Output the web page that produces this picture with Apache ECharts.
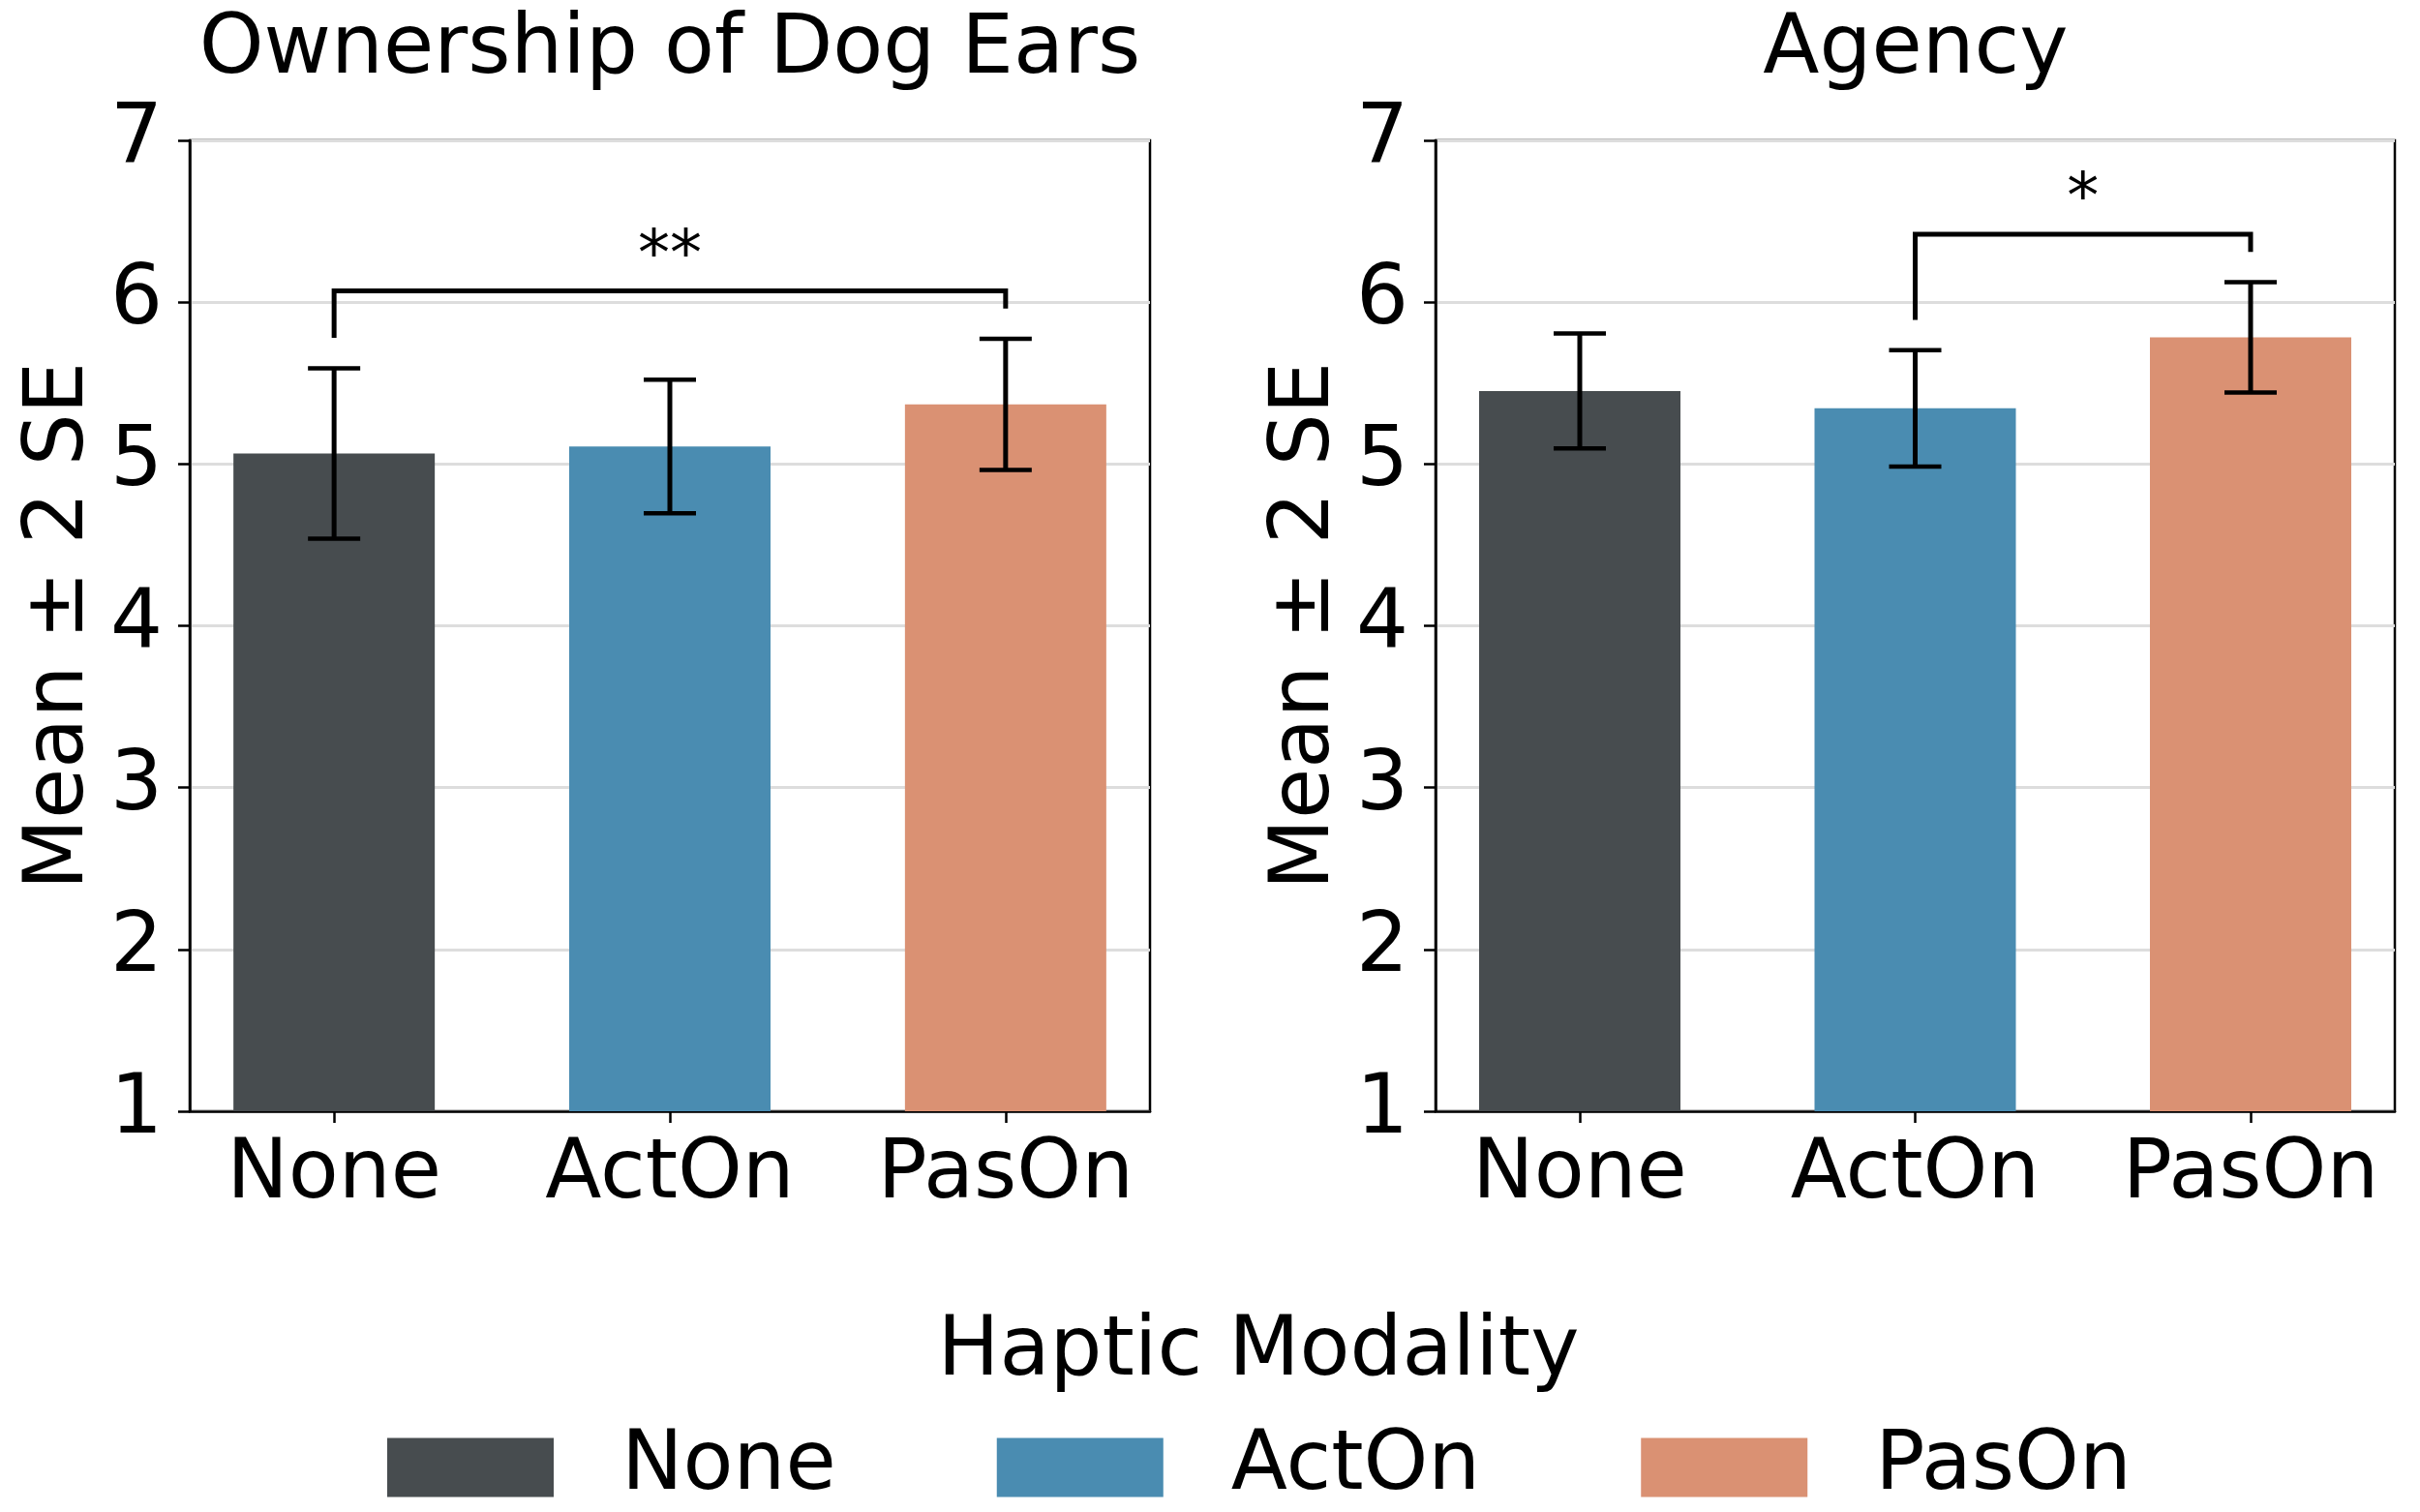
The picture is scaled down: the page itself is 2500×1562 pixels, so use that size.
<!DOCTYPE html>
<html>
<head>
<meta charset="utf-8">
<script src="https://cdn.jsdelivr.net/npm/echarts@6/dist/echarts.min.js"></script>
<style>html,body{margin:0;padding:0;background:#fff}#c{width:2500px;height:1562px}</style>
</head>
<body>
<div id="c"></div>
<script>
const categories = ['None', 'ActOn', 'PasOn'];
const panelTitles = ['Ownership of Dog Ears', 'Agency'];
const ownershipMeans = [5.065, 5.108, 5.368];
const ownershipErr = [0.526, 0.413, 0.405];
const agencyMeans = [5.451, 5.344, 5.783];
const agencyErr = [0.355, 0.360, 0.341];
const ownershipBracket = [0, 2, 6.07, 5.78, 5.96];
const ownershipStars = '**';
const agencyBracket = [1, 2, 6.42, 5.89, 6.31];
const agencyStars = '*';
const yMin = 1, yMax = 7, yStep = 1;
const legendTitle = 'Haptic Modality';
const yName = 'Mean \u00b1 2 SE';

const colors = ['#474c4f', '#4a8cb1', '#da9173'];
const FONT = 'DejaVu Sans';
const FS = 85;

const chart = echarts.init(document.getElementById('c'), null, {renderer: 'canvas'});

const grids = [
  {left: 196, top: 145, width: 992, height: 1003},
  {left: 1483, top: 145, width: 991, height: 1003}
];

function xAxisFor(gi) {
  return {
    type: 'value', gridIndex: gi, min: -0.43, max: 2.43,
    splitLine: {show: false},
    axisLine: {show: true, onZero: false, lineStyle: {color: '#000', width: 2.5}},
    axisTick: {show: true, length: 12, lineStyle: {color: '#000', width: 2.5}, customValues: [0, 1, 2]},
    axisLabel: {show: true, margin: 24, fontFamily: FONT, fontSize: FS, color: '#000',
      customValues: [0, 1, 2], formatter: v => categories[Math.round(v)] || ''}
  };
}
function yAxisFor(gi) {
  return {
    type: 'value', gridIndex: gi, min: yMin, max: yMax, interval: yStep,
    name: yName, nameLocation: 'middle', nameGap: 91, nameMoveOverlap: false,
    nameTextStyle: {fontFamily: FONT, fontSize: FS, color: '#000'},
    splitLine: {show: true, lineStyle: {color: '#dddddd', width: 3}},
    axisLine: {show: true, onZero: false, lineStyle: {color: '#000', width: 2.5}},
    axisTick: {show: true, length: 12, lineStyle: {color: '#000', width: 2.5}},
    axisLabel: {margin: 28, fontFamily: FONT, fontSize: FS, color: '#000', padding: [6, 0, 0, 0]}
  };
}

function barSeries(gi, means) {
  return categories.map((c, i) => ({
    type: 'bar', name: c, xAxisIndex: gi, yAxisIndex: gi,
    data: [[i, means[i]]], barWidth: 208, barGap: '-100%',
    itemStyle: {color: colors[i]}, z: 2
  }));
}

function errSeries(gi, means, errs) {
  return {
    type: 'custom', xAxisIndex: gi, yAxisIndex: gi, z: 5,
    data: means.map((m, i) => [i, m - errs[i], m + errs[i]]),
    encode: {x: 0, y: [1, 2]},
    renderItem: function (params, api) {
      const x = api.value(0);
      const lo = api.coord([x, api.value(1)]);
      const hi = api.coord([x, api.value(2)]);
      const cw = 27;
      const cap = {stroke: '#000', lineWidth: 4.5, fill: null};
      return {type: 'group', children: [
        {type: 'line', shape: {x1: lo[0], y1: lo[1], x2: hi[0], y2: hi[1]}, style: {stroke: '#000', lineWidth: 5, fill: null}},
        {type: 'line', shape: {x1: hi[0] - cw, y1: hi[1], x2: hi[0] + cw, y2: hi[1]}, style: cap},
        {type: 'line', shape: {x1: lo[0] - cw, y1: lo[1], x2: lo[0] + cw, y2: lo[1]}, style: cap}
      ]};
    }
  };
}

function bracketSeries(gi, br, label) {
  return {
    type: 'custom', xAxisIndex: gi, yAxisIndex: gi, z: 6,
    data: [br],
    renderItem: function (params, api) {
      const a = api.coord([api.value(0), api.value(3)]);
      const b = api.coord([api.value(0), api.value(2)]);
      const c = api.coord([api.value(1), api.value(2)]);
      const d = api.coord([api.value(1), api.value(4)]);
      return {type: 'group', children: [
        {type: 'polyline', shape: {points: [a, b, c, d]},
          style: {stroke: '#000', lineWidth: 5, fill: null, lineJoin: 'miter'}},
        {type: 'text', x: (b[0] + c[0]) / 2, y: b[1] - 1,
          style: {text: label, fontFamily: FONT, fontSize: 66, fill: '#000',
            align: 'center', verticalAlign: 'bottom'}}
      ]};
    }
  };
}

const option = {
  animation: false,
  backgroundColor: '#fff',
  title: [
    {text: panelTitles[0], left: 692, top: 3, textAlign: 'center', padding: 0,
      textStyle: {fontFamily: FONT, fontSize: FS, fontWeight: 'normal', color: '#000', lineHeight: 100}},
    {text: panelTitles[1], left: 1979, top: 3, textAlign: 'center', padding: 0,
      textStyle: {fontFamily: FONT, fontSize: FS, fontWeight: 'normal', color: '#000', lineHeight: 100}},
    {text: legendTitle, left: 1300, top: 1348, textAlign: 'center', padding: 0,
      textStyle: {fontFamily: FONT, fontSize: FS, fontWeight: 'normal', color: '#000', lineHeight: 100}}
  ],
  legend: {
    data: categories, left: 400, top: 1463, padding: 0, orient: 'horizontal',
    icon: 'rect', itemWidth: 172, itemHeight: 61, itemGap: 166,
    textStyle: {fontFamily: FONT, fontSize: FS, color: '#000', padding: [6, 0, 0, 65], lineHeight: 100},
    selectedMode: false
  },
  grid: grids.map(g => Object.assign({show: true, borderColor: '#000', borderWidth: 2.5,
    backgroundColor: 'transparent', outerBoundsMode: 'none', containLabel: false}, g)),
  xAxis: [xAxisFor(0), xAxisFor(1)],
  yAxis: [yAxisFor(0), yAxisFor(1)],
  series: [
    ...barSeries(0, ownershipMeans),
    ...barSeries(1, agencyMeans),
    errSeries(0, ownershipMeans, ownershipErr),
    errSeries(1, agencyMeans, agencyErr),
    bracketSeries(0, ownershipBracket, ownershipStars),
    bracketSeries(1, agencyBracket, agencyStars)
  ]
};
chart.setOption(option);
</script>
</body>
</html>
